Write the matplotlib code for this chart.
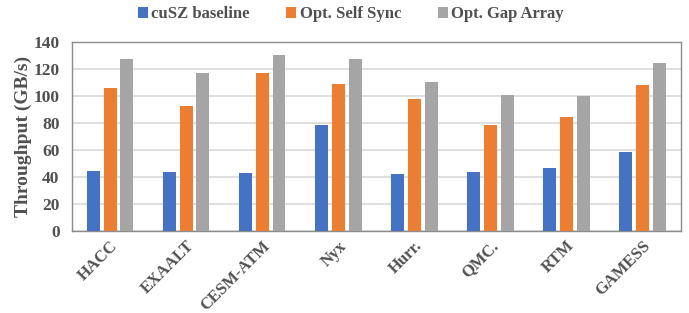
from matplotlib import pyplot as plt
import numpy as np

# Datos
datasets = ['HACC', 'EXAALT', 'CESM-ATM', 'Nyx', 'Hurr.', 'QMC.', 'RTM', 'GAMESS']
cusz = [44.4, 43.5, 43.0, 78.3, 42.0, 43.7, 46.7, 58.3]
self_sync = [105.9, 92.3, 117.3, 108.9, 97.8, 78.5, 84.7, 108.4]
gap_array = [127.6, 117.3, 130.6, 127.2, 110.6, 100.5, 99.7, 124.2]

plt.rcParams['font.family'] = ['Liberation Serif', 'DejaVu Serif']
plt.rcParams['font.weight'] = 'bold'
texto = '#505050'

fig = plt.figure(figsize=(6.89, 3.13), dpi=100)
ax = fig.add_axes([0.1045, 0.262, 0.8835, 0.604])

x = np.arange(len(datasets))
w = 0.17
ax.bar(x - 0.22, cusz, w, color='#4472C4', label='cuSZ baseline', zorder=3)
ax.bar(x, self_sync, w, color='#ED7D31', label='Opt. Self Sync', zorder=3)
ax.bar(x + 0.22, gap_array, w, color='#A5A5A5', label='Opt. Gap Array', zorder=3)

ax.set_xlim(-0.5, len(datasets) - 0.5)
ax.set_ylim(0, 140)
ax.set_yticks(np.arange(0, 141, 20))
ax.grid(axis='y', color='#d9d9d9', linewidth=1.2, zorder=0)

ax.set_xticks(x)
ax.set_xticklabels(datasets, rotation=45, ha='right', rotation_mode='anchor',
                   fontsize=12, fontweight='bold', color=texto)
ax.tick_params(axis='x', length=0, pad=5)
ax.tick_params(axis='y', length=0, pad=9, labelsize=12.5, labelcolor=texto)
for t in ax.get_yticklabels():
    t.set_fontweight('bold')

ax.set_ylabel('Throughput (GB/s)', fontsize=14, fontweight='bold', color=texto, labelpad=1)

for s in ax.spines.values():
    s.set_color('#8c8c8c')
    s.set_linewidth(1.0)

fig.legend(loc='center', bbox_to_anchor=(0.509, 0.955), ncol=3, frameon=False,
           prop={'size': 12, 'weight': 'bold'}, labelcolor=texto,
           handlelength=0.6, handleheight=0.6, handletextpad=0.2, columnspacing=2.2)

plt.savefig('out.png', dpi=100)
